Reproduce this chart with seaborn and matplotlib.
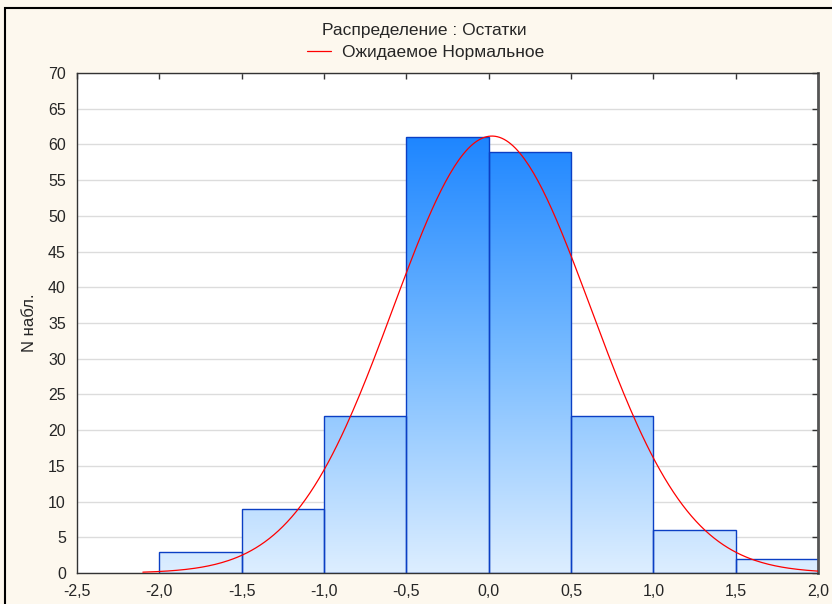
import numpy as np
import pandas as pd
import matplotlib
matplotlib.use("Agg")
import matplotlib.pyplot as plt
import seaborn as sns
from matplotlib.colors import LinearSegmentedColormap
from matplotlib.patches import Rectangle
from matplotlib.ticker import FuncFormatter, MultipleLocator

# ==============================
# Data
# ==============================

bin_edges = [-2.0, -1.5, -1.0, -0.5, 0.0, 0.5, 1.0, 1.5, 2.0]
counts = [3, 9, 22, 61, 59, 22, 6, 2]

# expected normal curve parameters
n_total = 184
bin_width = 0.5
norm_mean = 0.02
norm_sd = 0.6
curve_start = -2.1
curve_end = 2.0

title_text = "Распределение : Остатки"
legend_text = "Ожидаемое Нормальное"
y_label = "N набл."

mids = [(a + b) / 2 for a, b in zip(bin_edges[:-1], bin_edges[1:])]
df = pd.DataFrame({"mid": mids, "count": counts})

# ==============================
# Figure
# ==============================

sns.set_style("white")
plt.rcParams["font.family"] = ["Liberation Sans", "DejaVu Sans"]

bg = "#FDF8EE"
fig = plt.figure(figsize=(8.32, 6.04), dpi=100, facecolor=bg)
ax = fig.add_axes([77 / 832, 1 - 573 / 604, (818 - 77) / 832, (573 - 73) / 604])
ax.set_facecolor("white")

# outer frame
fig.patches.append(Rectangle((5 / 832, -0.01), 1.0, 1 - 8 / 604 + 0.01,
                             transform=fig.transFigure, fill=False,
                             edgecolor="black", linewidth=1.5, zorder=0))

ax.yaxis.grid(True, color="#DCDCDC", linewidth=1)
ax.set_axisbelow(True)

sns.histplot(data=df, x="mid", weights="count", bins=bin_edges, ax=ax,
             color="#DDEEFF", edgecolor="#0B3FC4", linewidth=1.0, alpha=1,
             zorder=2)

# gradient fill clipped to each bar
cmap = LinearSegmentedColormap.from_list(
    "grad", ["#DDEEFF", "#78BBFF", "#1E86FF"])
grad = np.linspace(0, 1, 256).reshape(-1, 1)
for p in ax.patches:
    img = ax.imshow(grad, cmap=cmap, origin="lower", aspect="auto",
                    extent=[-2.5, 2.0, 0, 61], zorder=2.1)
    img.set_clip_path(p)
    p.set_facecolor("none")
    p.set_zorder(2.2)

# expected normal curve
xs = np.linspace(curve_start, curve_end, 300)
ys = n_total * bin_width * np.exp(-0.5 * ((xs - norm_mean) / norm_sd) ** 2) / (norm_sd * np.sqrt(2 * np.pi))
sns.lineplot(x=xs, y=ys, ax=ax, color="#FF0000", linewidth=0.9, zorder=3,
             label=legend_text, sort=False)

ax.set_xlim(-2.5, 2.0)
ax.set_ylim(0, 70)
ax.xaxis.set_major_locator(MultipleLocator(0.5))
ax.yaxis.set_major_locator(MultipleLocator(5))
ax.xaxis.set_major_formatter(FuncFormatter(lambda v, p: f"{v:.1f}".replace(".", ",")))
ax.yaxis.set_major_formatter(FuncFormatter(lambda v, p: f"{v:.0f}"))
ax.tick_params(axis="both", direction="in", length=4, width=1, color="#333333",
               labelsize=11.5, top=True, right=True, pad=8)
ax.tick_params(axis="x", pad=8)
for s in ax.spines.values():
    s.set_color("#333333")
    s.set_linewidth(1.0)
ax.spines["right"].set_linewidth(2.0)
ax.spines["right"].set_color("#555555")

ax.set_xlabel("")
ax.set_ylabel(y_label, fontsize=12, labelpad=8)

fig.text(0.51, 1 - 30 / 604, title_text, ha="center", va="center", fontsize=12.5)
leg = ax.legend(loc="center", bbox_to_anchor=(0.47, 1 + 21 / 500), frameon=False,
                fontsize=12.5, handlelength=1.4, handletextpad=0.6,
                borderaxespad=0, borderpad=0)

fig.savefig("out.png", dpi=100, facecolor=bg)
